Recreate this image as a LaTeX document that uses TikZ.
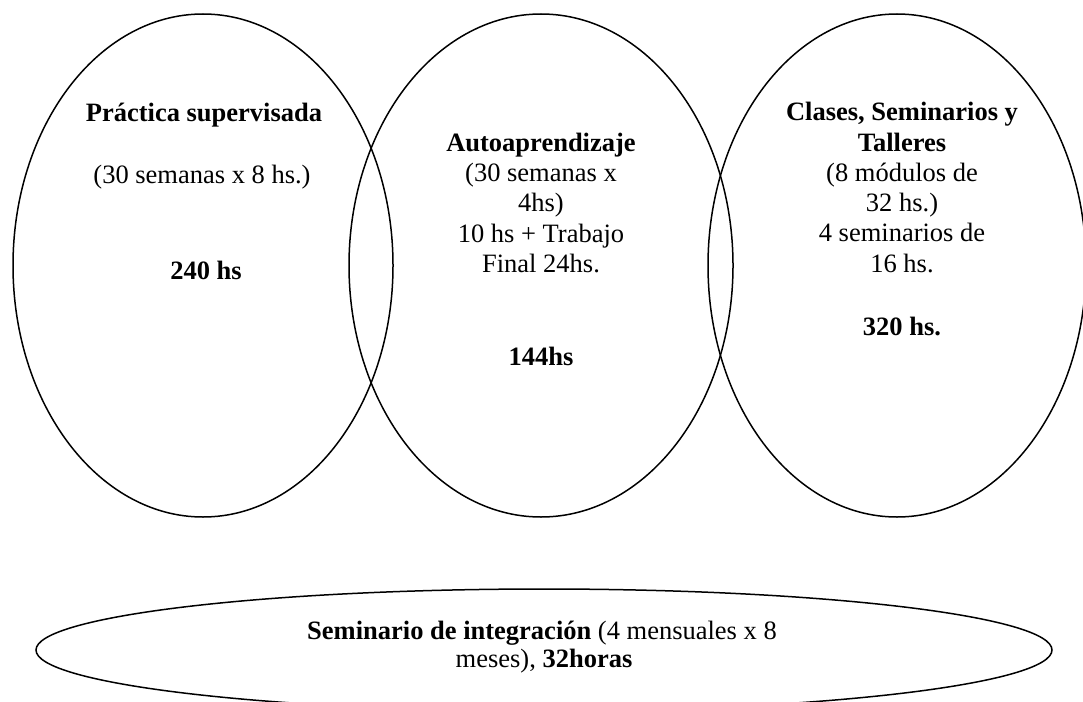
\documentclass[tikz,border=0pt]{standalone}
\usepackage{fontspec}
\setmainfont{Liberation Serif}
\usetikzlibrary{shapes.geometric}
\begin{document}
\begin{tikzpicture}[x=1pt,y=-1pt,
  bubble/.style={draw, ellipse, line width=1.5pt, inner sep=0pt},
  txt/.style={font=\fontsize{26.5}{30}\selectfont, inner sep=0pt, anchor=base}]
\useasboundingbox (0,0) rectangle (1083,701);
% ellipses
\node[bubble, minimum width=380pt, minimum height=503pt] (e1) at (203,265.5) {};
\node[bubble, minimum width=384pt, minimum height=503pt] (e2) at (541,265.5) {};
\node[bubble, minimum width=378pt, minimum height=503pt] (e3) at (897,265.5) {};
\node[bubble, minimum width=1016pt, minimum height=122pt] (e4) at (544,650) {};
% left
\node[txt] (l1) at (204,121) {\textbf{Práctica supervisada}};
\node[txt] (l2) at (202,183) {(30 semanas x 8 hs.)};
\node[txt] (l3) at (206,279) {\textbf{240 hs}};
% middle
\node[txt] (m1) at (541,151) {\textbf{Autoaprendizaje}};
\node[txt] (m2) at (541,181) {(30 semanas x};
\node[txt] (m3) at (541,211) {4hs)};
\node[txt] (m4) at (541,242) {10 hs + Trabajo};
\node[txt] (m5) at (541,272) {Final 24hs.};
\node[txt] (m6) at (541,365) {\textbf{144hs}};
% right
\node[txt] (r1) at (902,120) {\textbf{Clases, Seminarios y}};
\node[txt] (r2) at (902,151) {\textbf{Talleres}};
\node[txt] (r3) at (902,181) {(8 módulos de};
\node[txt] (r4) at (902,211) {32 hs.)};
\node[txt] (r5) at (902,241) {4 seminarios de};
\node[txt] (r6) at (902,272) {16 hs.};
\node[txt] (r7) at (902,335) {\textbf{320 hs.}};
% bottom
\node[txt] (b1) at (542,639) {\textbf{Seminario de integración} (4 mensuales x 8};
\node[txt] (b2) at (544,667) {meses), \textbf{32horas}};
\end{tikzpicture}
\end{document}
